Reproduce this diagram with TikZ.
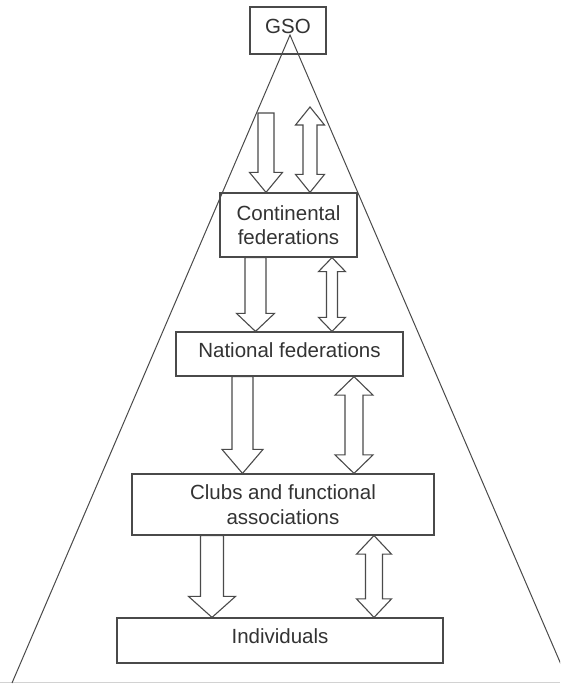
\documentclass[tikz,border=0pt]{standalone}
\usepackage{fontspec}
\setmainfont{Liberation Sans}
\usetikzlibrary{calc}
\definecolor{linec}{HTML}{4A4A4A}
\definecolor{textc}{HTML}{333333}
\tikzset{
  boxnode/.style={draw=linec, line width=1.2pt, rectangle, inner sep=0pt,
    align=center, text=textc, font=\fontsize{20.5}{24.5}\selectfont},
  oneline/.style={text depth=8pt},
  blockarrow/.style={draw=linec, line width=1.1pt, fill=white, line join=miter},
  sideline/.style={draw=linec, line width=1pt},
  baseline/.style={draw=gray!35, line width=1pt}
}
% #1 top point, #2 bottom node, #3 x centre, #4 half shaft, #5 half head, #6 head length
\newcommand{\blkdown}[6]{%
  \draw[blockarrow] let \p1=(#1), \p2=(#2.north) in
    (#3pt-#4pt,\y1) -- (#3pt-#4pt,\y2+#6pt) -- (#3pt-#5pt,\y2+#6pt) -- (#3pt,\y2)
    -- (#3pt+#5pt,\y2+#6pt) -- (#3pt+#4pt,\y2+#6pt) -- (#3pt+#4pt,\y1) -- cycle;}
\newcommand{\blkboth}[6]{%
  \draw[blockarrow] let \p1=(#1), \p2=(#2.north) in
    (#3pt,\y1) -- (#3pt+#5pt,\y1-#6pt) -- (#3pt+#4pt,\y1-#6pt) -- (#3pt+#4pt,\y2+#6pt)
    -- (#3pt+#5pt,\y2+#6pt) -- (#3pt,\y2) -- (#3pt-#5pt,\y2+#6pt) -- (#3pt-#4pt,\y2+#6pt)
    -- (#3pt-#4pt,\y1-#6pt) -- (#3pt-#5pt,\y1-#6pt) -- cycle;}
\begin{document}
\begin{tikzpicture}[x=1pt, y=-1pt]
\useasboundingbox (0,0) rectangle (560,684);
\clip (0,0) rectangle (560,684);
\fill[white] (0,0) rectangle (560,684);

% boxes
\node[boxnode, oneline, minimum width=76pt, minimum height=47pt] (gso) at (288,30.5) {GSO};
\node[boxnode, minimum width=137pt, minimum height=64pt] (cont) at (288.5,225) {Continental\\federations};
\node[boxnode, oneline, minimum width=227pt, minimum height=44pt] (nat) at (289.5,354) {National federations};
\node[boxnode, minimum width=302pt, minimum height=61pt] (club) at (283,504.5) {Clubs and functional\\associations};
\node[boxnode, oneline, minimum width=326pt, minimum height=45pt] (ind) at (280,640.5) {Individuals};

% pyramid
\coordinate (apex) at (290,35);
\coordinate (bl) at (12,683);
\coordinate (br) at (569,683);
\draw[baseline] (0,682.5) -- (560,682.5);
\draw[sideline] (bl) -- (apex) -- (br);

% arrows
\coordinate (t1) at (266,113);
\coordinate (t2) at (310,107);
\blkdown{t1}{cont}{266}{8}{16.5}{20}
\blkboth{t2}{cont}{310}{7}{14.5}{18}
\blkdown{cont.south}{nat}{255.5}{10.5}{19}{18}
\blkboth{cont.south}{nat}{332}{5.5}{13.5}{14}
\blkdown{nat.south}{club}{242.5}{10.5}{20.5}{24}
\blkboth{nat.south}{club}{354}{9}{19}{18.5}
\blkdown{club.south}{ind}{212}{11.5}{23.5}{21}
\blkboth{club.south}{ind}{374}{8.5}{17.5}{18.5}
\end{tikzpicture}
\end{document}
